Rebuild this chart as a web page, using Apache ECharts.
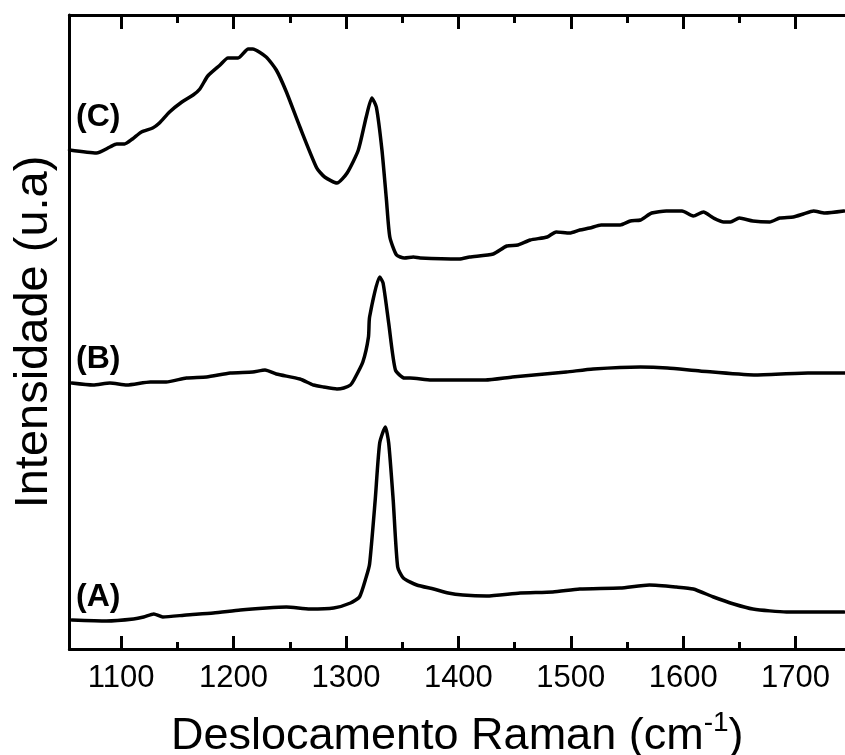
<!DOCTYPE html>
<html>
<head>
<meta charset="utf-8">
<script src="https://cdn.jsdelivr.net/npm/echarts@6/dist/echarts.min.js"></script>
<style>html,body{margin:0;padding:0;background:#fff}#c{width:845px;height:755px}</style>
</head>
<body>
<div id="c"></div>
<script>
// Raman shift (cm^-1) and intensity (a.u., offset per spectrum)
var waveC = [1054,1078,1090,1096,1103,1110,1118,1128,1134,1143,1154,1164,1170,1177,1188,1195,1204,1213,1217,1229,1238,1247,1259,1274,1281,1292,1301,1311,1318,1323,1327,1332,1336,1339,1345,1352,1360,1366,1401,1410,1431,1443,1453,1464,1479,1487,1499,1508,1517,1527,1544,1553,1562,1572,1585,1599,1609,1618,1627,1636,1642,1650,1662,1677,1686,1698,1707,1716,1726,1743];
var intC  = [499,496,502,505,505,510,517,521,526,537,547,554,560,573,584,591,591,600,600,592,579,557,522,481,472,466,476,499,532,551,542,499,449,412,394,391,392,391,390,392,395,403,404,409,412,417,416,419,421,424,424,428,429,436,438,438,433,437,431,427,427,431,428,427,431,432,435,438,436,438];

var waveB = [1056,1075,1090,1105,1126,1140,1158,1176,1197,1217,1228,1238,1259,1271,1280,1292,1298,1304,1307,1315,1320,1321,1330,1333,1338,1344,1352,1357,1376,1424,1448,1496,1520,1562,1586,1615,1663,1711,1744];
var intB  = [266,264,266,264,267,267,271,272,276,277,279,275,270,264,262,260,261,264,269,287,312,332,372,366,326,279,271,271,269,269,272,277,280,282,281,278,274,276,276];

var waveA = [1056,1087,1111,1120,1129,1137,1158,1182,1206,1229,1247,1268,1289,1304,1312,1318,1321,1326,1330,1335,1338,1342,1346,1351,1363,1378,1391,1404,1425,1455,1484,1508,1544,1570,1594,1609,1627,1645,1662,1692,1743];
var intA  = [29,28,30,32,35,32,34,36,39,41,42,40,41,46,52,72,85,149,206,222,206,149,82,71,64,60,56,54,53,56,57,60,61,64,62,60,52,45,40,37,37];

var majorTicks = [1100,1200,1300,1400,1500,1600,1700];
var minorTicks = [1150,1250,1350,1450,1550,1650];
var seriesLabels = ['(A)','(B)','(C)'];

function pairs(w, v){ return w.map(function(x,i){ return [x, v[i]]; }); }

var chart = echarts.init(document.getElementById('c'), null, {renderer:'canvas'});
var FONT = 'Liberation Sans, Arial, sans-serif';
var XMIN = 1054, XMAX = 1744;
function xa(opts){
  var base = {
    type:'value', min:XMIN, max:XMAX, gridIndex:0,
    splitLine:{show:false},
    axisLine:{show:true, onZero:false, lineStyle:{color:'#000', width:3}},
    axisLabel:{show:false},
    axisTick:{show:true, inside:true, lineStyle:{color:'#000', width:3}}
  };
  return Object.assign(base, opts);
}
function line(name, w, v){
  return {type:'line', name:name, data:pairs(w,v), showSymbol:false, symbol:'none', smooth:0.2,
    lineStyle:{color:'#000', width:3.5, join:'round', cap:'round'}, itemStyle:{color:'#000'}};
}
var option = {
  animation:false,
  backgroundColor:'#fff',
  grid:{left:69.5, right:0, top:15, bottom:106, containLabel:false, outerBoundsMode:'none'},
  xAxis:[
    xa({position:'bottom', name:'Deslocamento Raman (cm{sup|-1})', nameLocation:'middle', nameGap:60,
        nameTextStyle:{color:'#000', fontSize:45, fontFamily:FONT,
          rich:{sup:{fontSize:28, fontFamily:FONT, color:'#000', verticalAlign:'top', padding:[0,0,28,0]}}},
        axisTick:{show:true, inside:true, length:13, customValues:majorTicks, lineStyle:{color:'#000', width:3}},
        axisLabel:{show:true, customValues:majorTicks, color:'#000', fontSize:31, fontFamily:FONT, margin:14,
          formatter:function(v){ return String(v); }}}),
    xa({position:'bottom', axisTick:{show:true, inside:true, length:7, customValues:minorTicks, lineStyle:{color:'#000', width:3}}}),
    xa({position:'top', axisTick:{show:true, inside:true, length:14, customValues:majorTicks, lineStyle:{color:'#000', width:3}}}),
    xa({position:'top', axisTick:{show:true, inside:true, length:8, customValues:minorTicks, lineStyle:{color:'#000', width:3}}})
  ],
  yAxis:{type:'value', min:0, max:634, position:'left',
    name:'Intensidade (u.a)', nameLocation:'middle', nameGap:12,
    nameTextStyle:{color:'#000', fontSize:47, fontFamily:FONT},
    axisLine:{show:true, lineStyle:{color:'#000', width:3}},
    axisTick:{show:false}, axisLabel:{show:false}, splitLine:{show:false}},
  series:[
    line(seriesLabels[0], waveA, intA),
    line(seriesLabels[1], waveB, intB),
    line(seriesLabels[2], waveC, intC)
  ],
  graphic:[
    {type:'text', left:76, top:581, style:{text:seriesLabels[0], fill:'#000', font:'bold 32px '+FONT}},
    {type:'text', left:76, top:343, style:{text:seriesLabels[1], fill:'#000', font:'bold 32px '+FONT}},
    {type:'text', left:76, top:101, style:{text:seriesLabels[2], fill:'#000', font:'bold 32px '+FONT}}
  ]
};
chart.setOption(option);
</script>
</body>
</html>
